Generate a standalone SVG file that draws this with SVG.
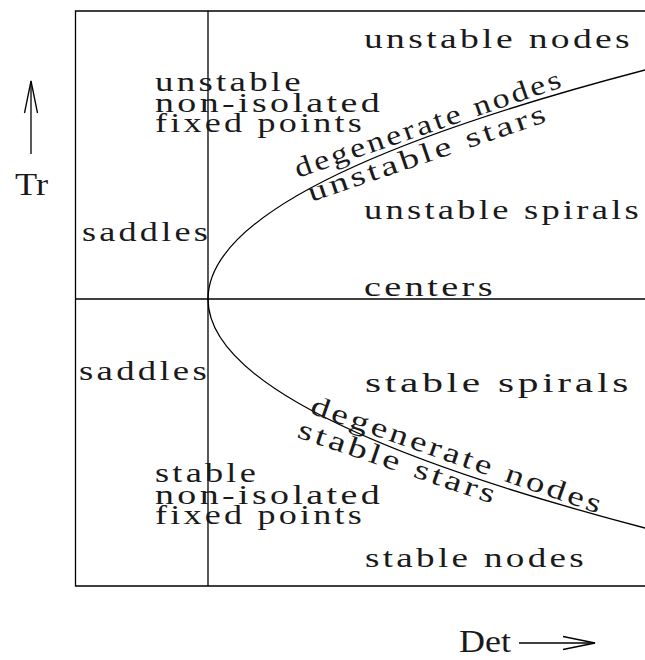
<svg xmlns="http://www.w3.org/2000/svg" width="645" height="660" viewBox="0 0 645 660">
<style>
  .ln { fill: none; stroke: #000; stroke-width: 1.3; }
  .t { font-family: "Liberation Serif", "DejaVu Serif", serif; font-size: 28px; letter-spacing: 2.5px; fill: #1a1a1a; }
  .big { font-family: "Liberation Serif", "DejaVu Serif", serif; font-size: 31px; fill: #1a1a1a; }
</style>
<rect width="645" height="660" fill="#fff"/>
<g id="frame">
  <path class="ln" d="M700,11 H75.5 V586 H700"/>
  <line class="ln" x1="208" y1="11" x2="208" y2="586"/>
  <line class="ln" x1="75.5" y1="299" x2="700" y2="299"/>
</g>
<g id="connectors">
  <path id="curve-upper" class="ln" d="M208,299 Q208,184.5 645,70"/>
  <path id="curve-lower" class="ln" d="M208,299 Q208,413.5 645,528"/>
  <g id="tr-arrow">
    <line class="ln" x1="31" y1="154" x2="31" y2="81"/>
    <path class="ln" d="M24.5,113 L31,81 L37.5,113"/>
  </g>
  <g id="det-arrow">
    <line class="ln" x1="519" y1="643" x2="595" y2="643"/>
    <path class="ln" d="M563,636.5 L595,643 L563,649.5"/>
  </g>
</g>
<g id="axis-labels">
  <text id="tr" class="big" x="15" y="195" textLength="33" lengthAdjust="spacingAndGlyphs">Tr</text>
  <text id="det" class="big" x="459" y="652" textLength="52" lengthAdjust="spacingAndGlyphs">Det</text>
</g>
<g id="region-unstable-nodes"><text class="t" x="364" y="48" textLength="269" lengthAdjust="spacingAndGlyphs">unstable nodes</text></g>
<g id="region-unstable-nonisolated">
  <text class="t" x="155" y="91" textLength="149" lengthAdjust="spacingAndGlyphs">unstable</text>
  <text class="t" x="155" y="112" textLength="228" lengthAdjust="spacingAndGlyphs">non-isolated</text>
  <text class="t" x="155" y="132" textLength="210" lengthAdjust="spacingAndGlyphs">fixed points</text>
</g>
<g id="region-saddles-upper"><text class="t" x="82" y="241" textLength="129" lengthAdjust="spacingAndGlyphs">saddles</text></g>
<g id="region-unstable-spirals"><text class="t" x="364" y="219" textLength="278" lengthAdjust="spacingAndGlyphs">unstable spirals</text></g>
<g id="region-centers"><text class="t" x="364" y="296" textLength="132" lengthAdjust="spacingAndGlyphs">centers</text></g>
<g id="region-degenerate-upper"><text class="t" transform="translate(298,178) rotate(-19)" textLength="283" lengthAdjust="spacingAndGlyphs">degenerate nodes</text></g>
<g id="region-unstable-stars"><text class="t" transform="translate(311,202) rotate(-18.8)" textLength="253" lengthAdjust="spacingAndGlyphs">unstable stars</text></g>
<g id="region-saddles-lower"><text class="t" x="79" y="380" textLength="131" lengthAdjust="spacingAndGlyphs">saddles</text></g>
<g id="region-stable-spirals"><text class="t" x="365" y="392" textLength="267" lengthAdjust="spacingAndGlyphs">stable spirals</text></g>
<g id="region-degenerate-lower"><text class="t" transform="translate(309,413) rotate(19.2)" textLength="309" lengthAdjust="spacingAndGlyphs">degenerate nodes</text></g>
<g id="region-stable-stars"><text class="t" transform="translate(296,437) rotate(18.8)" textLength="210" lengthAdjust="spacingAndGlyphs">stable stars</text></g>
<g id="region-stable-nonisolated">
  <text class="t" x="155" y="482" textLength="104" lengthAdjust="spacingAndGlyphs">stable</text>
  <text class="t" x="155" y="504" textLength="228" lengthAdjust="spacingAndGlyphs">non-isolated</text>
  <text class="t" x="155" y="524" textLength="210" lengthAdjust="spacingAndGlyphs">fixed points</text>
</g>
<g id="region-stable-nodes"><text class="t" x="365" y="567" textLength="222" lengthAdjust="spacingAndGlyphs">stable nodes</text></g>
</svg>
